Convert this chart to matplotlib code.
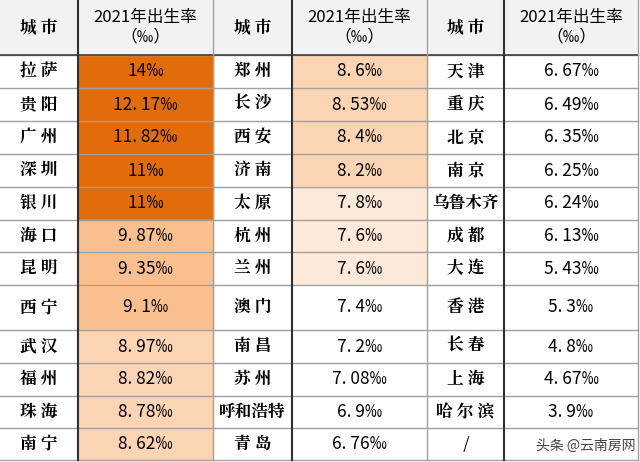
import matplotlib
matplotlib.use("Agg")
import matplotlib.pyplot as plt
from matplotlib.patches import Rectangle

plt.rcParams["font.family"] = ["Noto Sans CJK JP", "Noto Sans CJK SC", "DejaVu Sans"]
serif = ["Noto Serif CJK JP", "Noto Sans CJK JP", "DejaVu Sans"]

header_city = "城市"
header_rate = "2021年出生率\n（‰）"

cities_1 = ["拉萨", "贵阳", "广州", "深圳", "银川", "海口", "昆明", "西宁", "武汉", "福州", "珠海", "南宁"]
rates_1 = ["14‰", "12.17‰", "11.82‰", "11‰", "11‰", "9.87‰", "9.35‰", "9.1‰", "8.97‰", "8.82‰", "8.78‰", "8.62‰"]
cities_2 = ["郑州", "长沙", "西安", "济南", "太原", "杭州", "兰州", "澳门", "南昌", "苏州", "呼和浩特", "青岛"]
rates_2 = ["8.6‰", "8.53‰", "8.4‰", "8.2‰", "7.8‰", "7.6‰", "7.6‰", "7.4‰", "7.2‰", "7.08‰", "6.9‰", "6.76‰"]
cities_3 = ["天津", "重庆", "北京", "南京", "乌鲁木齐", "成都", "大连", "香港", "长春", "上海", "哈尔滨", "/"]
rates_3 = ["6.67‰", "6.49‰", "6.35‰", "6.25‰", "6.24‰", "6.13‰", "5.43‰", "5.3‰", "4.8‰", "4.67‰", "3.9‰", ""]

# fill shade per rate cell: 3 dark, 2 mid, 1 light, 0.5 faint, 0 none
shade_1 = [3, 3, 3, 3, 3, 2, 2, 2, 1, 1, 1, 1]
shade_2 = [1, 1, 1, 1, 0.5, 0.5, 0.5, 0, 0, 0, 0, 0]
shade_3 = [0] * 12
colors = {3: "#E36C0A", 2: "#F9BF8F", 1: "#FBD4B4", 0.5: "#FDE9D9", 0: "white"}

col_x = [0, 78, 213, 292, 427, 504, 638]
row_y = [0, 55, 88, 121, 154, 187, 220, 252, 285, 330, 363, 396, 428, 460]

fig = plt.figure(figsize=(6.4, 4.62), dpi=100)
ax = fig.add_axes([0, 0, 1, 1])
ax.set_xlim(0, 640)
ax.set_ylim(462, 0)
ax.axis("off")

# header background
ax.add_patch(Rectangle((0, 0), 638, 55, color="#F2F2F2", zorder=0))

groups = [(cities_1, rates_1, shade_1), (cities_2, rates_2, shade_2), (cities_3, rates_3, shade_3)]
for g, (cities, rates, shades) in enumerate(groups):
    xc0, xc1, xc2 = col_x[2 * g], col_x[2 * g + 1], col_x[2 * g + 2]
    ax.text((xc0 + xc1) / 2, 28, " ".join(header_city), ha="center", va="center",
            fontsize=12, family=serif, weight="bold")
    ax.text((xc1 + xc2) / 2, 27, header_rate, ha="center", va="center",
            fontsize=12, linespacing=1.2)
    for i in range(len(cities)):
        y0, y1 = row_y[i + 1], row_y[i + 2]
        ax.add_patch(Rectangle((xc1, y0), xc2 - xc1, y1 - y0, color=colors[shades[i]], zorder=0))
        ym = (y0 + y1) / 2
        name = cities[i] if len(cities[i]) > 3 else " ".join(cities[i])
        ax.text((xc0 + xc1) / 2, ym, name, ha="center", va="center",
                fontsize=12, family=serif, weight="bold")
        ax.text((xc1 + xc2) / 2, ym, rates[i].replace(".", ". "), ha="center", va="center",
                fontsize=12.5)

# grid lines
for y in row_y[1:]:
    ax.plot([0, 638], [y, y], color="#A0A0A0", lw=1, zorder=2)
ax.plot([0, 638], [row_y[1], row_y[1]], color="#404040", lw=1.2, zorder=3)
for k, x in enumerate(col_x[1:]):
    thick = k % 2 == 0
    ax.plot([x, x], [0, 460], color="#303030" if thick else "#A0A0A0", lw=1.5 if thick else 1, zorder=3)

ax.text(636, 446, "头条 @云南房网", ha="right", va="center", fontsize=10, color="#444444", zorder=4)

fig.savefig("out.png", dpi=100)
